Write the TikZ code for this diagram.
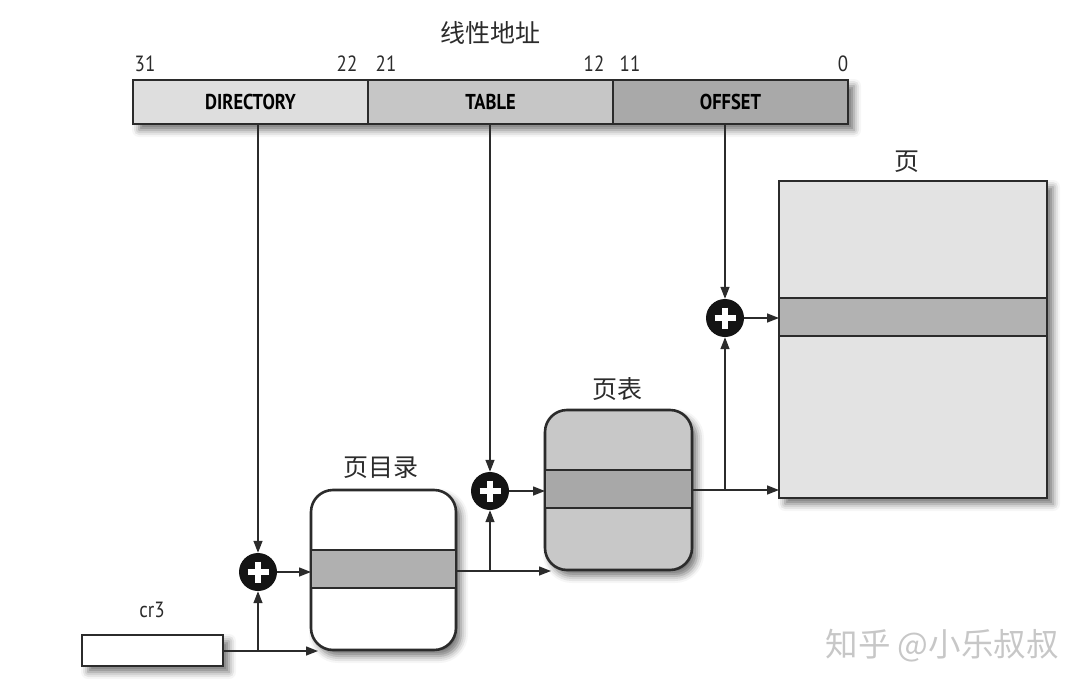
\documentclass[tikz,border=0pt]{standalone}
\usepackage{fontspec}
\usepackage{graphicx}
\setmainfont{PT Sans}
\newfontfamily\cjk{Noto Sans CJK SC}
\usetikzlibrary{arrows.meta,shadows.blur,calc}

\definecolor{ink}{HTML}{2B2B2B}
\definecolor{dirfill}{HTML}{DEDEDE}
\definecolor{tabfill}{HTML}{C6C6C6}
\definecolor{offfill}{HTML}{A9A9A9}
\definecolor{ptfill}{HTML}{C8C8C8}
\definecolor{ptband}{HTML}{A8A8A8}
\definecolor{pgfill}{HTML}{E3E3E3}
\definecolor{pgband}{HTML}{B2B2B2}
\definecolor{pdband}{HTML}{B0B0B0}

\newcommand{\narrow}[1]{\scalebox{0.86}[1]{#1}}

\tikzset{
  field/.style={draw=ink, line width=2.4pt, inner sep=0pt, outer sep=0pt,
    minimum height=44pt, font=\fontsize{21.5}{21.5}\selectfont\bfseries},
  tablebox/.style={draw=ink, line width=2.6pt, rounded corners=22pt,
    inner sep=0pt, outer sep=0pt,
    blur shadow={shadow xshift=5pt, shadow yshift=-6pt, shadow blur radius=7pt, shadow opacity=55}},
  pagebox/.style={draw=ink, line width=2.6pt, inner sep=0pt, outer sep=0pt,
    blur shadow={shadow xshift=6pt, shadow yshift=-6pt, shadow blur radius=7pt, shadow opacity=55}},
  band/.style={inner sep=0pt, outer sep=0pt, minimum height=38pt},
  adder/.style={circle, fill=black!92, minimum size=38pt, inner sep=0pt,
    path picture={
      \draw[white, line width=6pt]
        ($(path picture bounding box.center)+(-10.5,0)$) -- ($(path picture bounding box.center)+(10.5,0)$)
        ($(path picture bounding box.center)+(0,-10.5)$) -- ($(path picture bounding box.center)+(0,10.5)$);}},
  link/.style={draw=ink, line width=1.4pt},
  feed/.style={link, -{Triangle[length=12pt,width=9pt]}},
  bits/.style={font=\fontsize{22}{22}\selectfont, text=ink},
  title/.style={font=\cjk\fontsize{25}{25}\selectfont, text=ink},
}

\begin{document}
\begin{tikzpicture}[x=1pt, y=-1pt]
\useasboundingbox (0,0) rectangle (1086,690);

% ---- linear address: three bit fields ----
\node[pagebox, fill=none, minimum width=715pt, minimum height=44pt] (bar) at (490.5,102) {};
\node[field, fill=dirfill, minimum width=235pt] (dir) at (250.5,102) {\narrow{DIRECTORY}};
\node[field, fill=tabfill, minimum width=245pt] (tab) at (490.5,102) {\narrow{TABLE}};
\node[field, fill=offfill, minimum width=235pt] (off) at (730.5,102) {\narrow{OFFSET}};

\node[title] (lintitle) at (490,33) {线性地址};
\node[bits] (b31) at (145,64) {\narrow{31}};
\node[bits] (b22) at (347,64) {\narrow{22}};
\node[bits] (b21) at (386,64) {\narrow{21}};
\node[bits] (b12) at (594,64) {\narrow{12}};
\node[bits] (b11) at (630,64) {\narrow{11}};
\node[bits] (b0)  at (843,64) {\narrow{0}};

% ---- cr3 register ----
\node[pagebox, fill=white, line width=2.4pt, minimum width=141pt, minimum height=31pt] (cr3) at (152.5,650.5) {};
\node[bits] (cr3label) at (152,610) {\narrow{cr3}};

% ---- page directory ----
\node[tablebox, fill=white, minimum width=145pt, minimum height=160pt] (pd) at (383.5,570) {};
\node[band, fill=pdband, minimum width=143pt] (pdrow) at (383.5,569) {};
\draw[ink, line width=2.2pt] (pd.west |- 0,550) -- (pd.east |- 0,550)
                             (pd.west |- 0,588) -- (pd.east |- 0,588);
\node[title] (pdlabel) at (381,468) {页目录};

% ---- page table ----
\node[tablebox, fill=ptfill, minimum width=147pt, minimum height=160pt] (pt) at (618.5,490) {};
\node[band, fill=ptband, minimum width=145pt] (ptrow) at (618.5,489) {};
\draw[ink, line width=2.2pt] (pt.west |- 0,470) -- (pt.east |- 0,470)
                             (pt.west |- 0,508) -- (pt.east |- 0,508);
\node[title] (ptlabel) at (617,389) {页表};

% ---- page frame ----
\node[pagebox, fill=pgfill, minimum width=268pt, minimum height=317pt] (pg) at (913,339.5) {};
\node[band, fill=pgband, minimum width=266pt] (pgrow) at (913,317) {};
\draw[ink, line width=2.2pt] (pg.west |- 0,298) -- (pg.east |- 0,298)
                             (pg.west |- 0,336) -- (pg.east |- 0,336);
\node[title] (pglabel) at (907,162) {页};

% ---- adders ----
\node[adder] (add1) at (258,572) {};
\node[adder] (add2) at (490,491) {};
\node[adder] (add3) at (725,318) {};

% ---- index fields into the adders ----
\draw[feed] (add1 |- dir.south) -- (add1.north);
\draw[feed] (add2 |- tab.south) -- (add2.north);
\draw[feed] (add3 |- off.south) -- (add3.north);

% ---- cr3 -> page directory base ----
\coordinate (pdbase) at (318,651);
\draw[feed] (cr3.east |- pdbase) -- (pdbase);
\draw[feed] (add1 |- pdbase) -- (add1.south);
\draw[feed] (add1.east) -- (add1 -| pd.west);

% ---- directory entry -> page table base ----
\coordinate (ptbase) at (551,571);
\draw[feed] (pd.east |- ptbase) -- (ptbase);
\draw[feed] (add2 |- ptbase) -- (add2.south);
\draw[feed] (add2.east) -- (add2 -| pt.west);

% ---- table entry -> page base ----
\coordinate (pgbase) at (pg.west |- 0,490);
\draw[feed] (pt.east |- pgbase) -- (pgbase);
\draw[feed] (add3 |- pgbase) -- (add3.south);
\draw[feed] (add3.east) -- (add3 -| pg.west);

% ---- signature ----
\node[font=\cjk\fontsize{32.5}{32.5}\selectfont, text=black!22] (sig) at (942,646) {知乎 @小乐叔叔};
\end{tikzpicture}
\end{document}
